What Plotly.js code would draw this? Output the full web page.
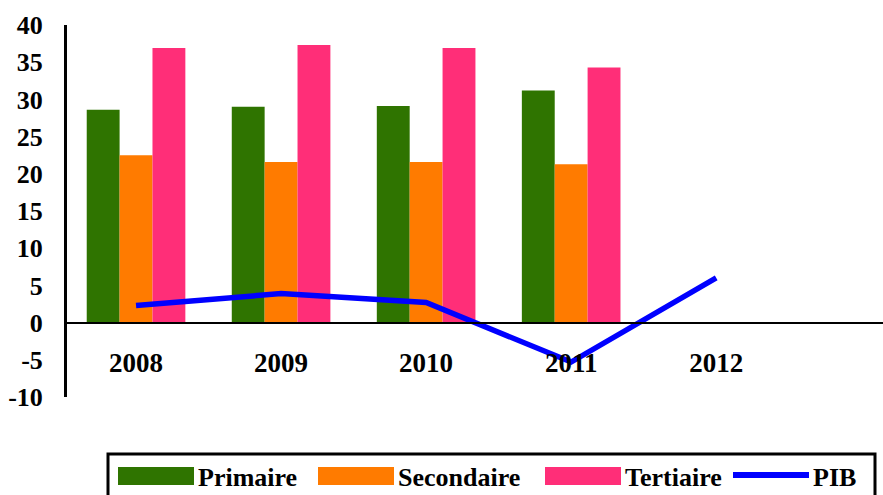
<!DOCTYPE html>
<html>
<head>
<meta charset="utf-8">
<script src="https://cdn.plot.ly/plotly-3.0.1.min.js"></script>
<style>
  html, body { margin: 0; padding: 0; background: #fff; }
  #chart { width: 883px; height: 495px; }
</style>
</head>
<body>
<div id="chart"></div>
<script>
// Years on the category axis
const years = ['2008', '2009', '2010', '2011', '2012'];

// Sector shares (%)
const primaire   = [28.6, 29.0, 29.1, 31.2, null];
const secondaire = [22.5, 21.6, 21.6, 21.3, null];
const tertiaire  = [36.9, 37.3, 36.9, 34.3, null];

// GDP growth (%)
const pib = [2.3, 3.9, 2.7, -5.3, 6.0];

// Value axis ticks
const yTicks = [40, 35, 30, 25, 20, 15, 10, 5, 0, -5, -10];

const seriesNames = ['Primaire', 'Secondaire', 'Tertiaire', 'PIB'];
const colors = ['#2f7400', '#ff7b00', '#ff2e78', '#0000ff'];

const FONT = 'Liberation Serif, Times New Roman, serif';

const W = 883, H = 495;
const M = { l: 67, r: 0, t: 25, b: 98 };
const plotW = W - M.l - M.r;
const plotH = H - M.t - M.b;
const yMin = -10, yMax = 40;

// pixel -> paper helpers for the hand-drawn legend
const px = v => (v - M.l) / plotW;
const py = v => (H - M.b - v) / plotH;

const barSeries = [primaire, secondaire, tertiaire];
const traces = barSeries.map((vals, i) => ({
  type: 'bar',
  name: seriesNames[i],
  x: years,
  y: vals,
  marker: { color: colors[i], line: { width: 0 } },
  hoverinfo: 'x+y+name',
  showlegend: false
}));

traces.push({
  type: 'scatter',
  mode: 'lines',
  name: seriesNames[3],
  x: years,
  y: pib,
  line: { color: colors[3], width: 5.5 },
  showlegend: false
});

// Legend drawn as shapes + text so the swatches can be wide
const legendSwatchX = [118, 318, 545, 733];
const swatchW = 76;
const shapes = [
  {
    type: 'rect', xref: 'paper', yref: 'paper',
    x0: px(108), x1: px(875), y0: py(454), y1: py(510),
    line: { color: '#000', width: 3 }, fillcolor: 'rgba(0,0,0,0)'
  }
];
const annotations = [];
seriesNames.forEach((name, i) => {
  const sx = legendSwatchX[i];
  if (i < 3) {
    shapes.push({
      type: 'rect', xref: 'paper', yref: 'paper',
      x0: px(sx), x1: px(sx + swatchW), y0: py(485), y1: py(467),
      line: { width: 0 }, fillcolor: colors[i]
    });
  } else {
    shapes.push({
      type: 'line', xref: 'paper', yref: 'paper',
      x0: px(sx), x1: px(sx + swatchW), y0: py(475), y1: py(475),
      line: { color: colors[i], width: 6 }
    });
  }
  annotations.push({
    xref: 'paper', yref: 'paper',
    x: px(sx + swatchW + 2), y: py(477),
    xanchor: 'left', yanchor: 'middle',
    text: name, showarrow: false,
    font: { family: FONT, size: 26, color: '#000', weight: 'bold' }
  });
});

const layout = {
  width: W, height: H,
  margin: M,
  paper_bgcolor: '#fff',
  plot_bgcolor: '#fff',
  barmode: 'group',
  bargap: 0.32,
  bargroupgap: 0,
  showlegend: false,
  font: { family: FONT, color: '#000' },
  xaxis: {
    type: 'category',
    range: [-0.476, 5.15],
    anchor: 'free',
    position: (0 - yMin) / (yMax - yMin),
    showline: true, linecolor: '#000', linewidth: 2.5,
    ticks: '', showgrid: false, zeroline: false,
    ticklabelstandoff: 15,
    tickfont: { family: FONT, size: 27, color: '#000', weight: 'bold' },
    fixedrange: true
  },
  yaxis: {
    range: [yMin, yMax],
    tickvals: yTicks,
    ticktext: yTicks.map(String),
    showline: true, linecolor: '#000', linewidth: 3,
    ticks: '', showgrid: false, zeroline: false,
    ticklabelstandoff: 16,
    tickfont: { family: FONT, size: 26, color: '#000', weight: 'bold' },
    fixedrange: true
  },
  shapes: shapes,
  annotations: annotations
};

Plotly.newPlot('chart', traces, layout, { displayModeBar: false, staticPlot: true });
</script>
</body>
</html>
